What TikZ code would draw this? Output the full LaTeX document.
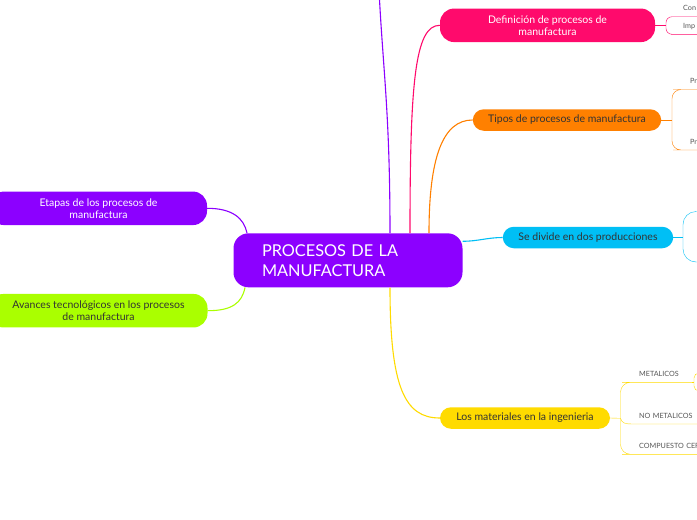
\documentclass[tikz,border=0pt]{standalone}
\usepackage{fontspec}
\setmainfont{Lato}
\usetikzlibrary{positioning}
\definecolor{morado}{HTML}{8C00FF}
\definecolor{rosa}{HTML}{FF0A6C}
\definecolor{naranja}{HTML}{FF8000}
\definecolor{celeste}{HTML}{00BFF5}
\definecolor{amarillo}{HTML}{FFDB00}
\definecolor{lima}{HTML}{AAFF00}
\definecolor{texto}{HTML}{333333}
\definecolor{gris}{HTML}{555555}
\tikzset{
    rama/.style={
           rectangle,
           rounded corners=11pt,
           inner sep=0pt,
           minimum height=21.5pt,
           text=texto,
           font=\fontsize{10.5}{12}\selectfont,
           align=center,
           },
}
\tikzset{
    rama2/.style={
           rama,
           rounded corners=14pt,
           minimum height=33.5pt,
           text=white,
           },
}
\tikzset{
    hoja/.style={
           anchor=south west,
           inner xsep=7pt,
           inner ysep=4.7pt,
           text depth=1pt,
           text width=66pt,
           align=left,
           text=gris,
           font=\fontsize{7.2}{8}\selectfont,
           },
}
\tikzset{
    linea/.style={
           line width=1.1pt,
           },
}

\begin{document}
\begin{tikzpicture}[x=1pt,y=-1pt]
\useasboundingbox[fill=white] (0,0) rectangle (697,520);
\clip (0,0) rectangle (697,520);
\node[fill=morado,rounded corners=15pt,inner sep=0pt,minimum width=229pt,minimum height=54pt,text width=172pt,align=left,text=white,font=\fontsize{16.3}{20}\selectfont](proc) at (348,260.3){PROCESOS DE LA\\MANUFACTURA};
\node[rama2,fill=rosa,minimum width=215pt](def) at (547.5,25.3){Definición de procesos de\\manufactura};
\node[rama,fill=naranja,minimum width=188.5pt](tipos) at (567,120){Tipos de procesos de manufactura};
\node[rama,fill=celeste,minimum width=170.5pt](divide) at (588,237.5){Se divide en dos producciones};
\node[rama,fill=amarillo,minimum width=170pt](mat) at (525,418){Los materiales en la ingenieria};
\node[rama2,fill=morado,minimum width=217pt](etapas) at (98.5,208.3){Etapas de los procesos de\\manufactura};
\node[rama2,fill=lima,text=texto,minimum width=218pt](avances) at (98.5,310.7){Avances tecnológicos en los procesos\\de manufactura};
\coordinate (arriba) at (379,-10);
\draw[linea,morado] ([xshift=42pt]proc.north) .. controls +(0,-120) and +(4,80) .. (arriba);
\draw[linea,rosa] ([xshift=62pt]proc.north) .. controls +(0,-150) and +(-25,0) .. (def.west);
\draw[linea,naranja] ([xshift=81pt]proc.north) .. controls +(0,-75) and +(-30,0) .. (tipos.west);
\draw[linea,celeste] ([yshift=19pt]proc.east) .. controls +(15,0) and +(-15,0) .. (divide.west);
\draw[linea,amarillo] ([xshift=42pt]proc.south) .. controls +(0,100) and +(-35,0) .. (mat.west);
\draw[linea,morado] (etapas.east) .. controls +(25,0) and +(-3,-15) .. ([xshift=-101pt]proc.north);
\draw[linea,lima] (avances.east) .. controls +(25,0) and +(-3,15) .. ([xshift=-103pt]proc.south);
\coordinate (deff) at (666,25.3);
\node[hoja,inner xsep=6pt](con) at (677,16.7){Con};
\node[hoja,inner xsep=6pt](imp) at (677,34.3){Imp};
\draw[rosa] (def.east) -- (deff);
\draw[rosa,rounded corners=6pt] (deff) |- (con.south west) -- (con.south east);
\draw[rosa,rounded corners=6pt] (deff) |- (imp.south west) -- (imp.south east);
\coordinate (tiposf) at (672,120);
\node[hoja,inner xsep=8pt](pr1) at (682,89.5){Pr};
\node[hoja,inner xsep=8pt](pr2) at (682,150){Pr};
\draw[naranja] (tipos.east) -- (tiposf);
\draw[naranja,rounded corners=9pt] (tiposf) |- (pr1.south west) -- (pr1.south east);
\draw[naranja,rounded corners=9pt] (tiposf) |- (pr2.south west) -- (pr2.south east);
\coordinate (dividef) at (683,237.5);
\coordinate (div1) at (710,211.5);
\coordinate (div2) at (710,262);
\draw[celeste] (divide.east) -- (dividef);
\draw[celeste,rounded corners=13pt] (dividef) |- (div1);
\draw[celeste,rounded corners=13pt] (dividef) |- (div2);
\coordinate (matf) at (620.5,418.3);
\node[hoja,text width=46pt](met) at (632,382.3){METALICOS};
\node[hoja](nomet) at (632,424){NO METALICOS};
\node[hoja,text width=80pt](comp) at (632,454.3){COMPUESTO CER};
\draw[amarillo] (mat.east) -- (matf);
\draw[amarillo,rounded corners=10pt] (matf) |- (met.south west) -- (met.south east);
\draw[amarillo] (matf) .. controls +(1,5) and +(-6,0) .. (nomet.south west) -- (nomet.south east);
\draw[amarillo,rounded corners=10pt] (matf) |- (comp.south west) -- (comp.south east);
\coordinate (metf) at (694,382.3);
\coordinate (met1) at (710,373);
\coordinate (met2) at (710,391);
\draw[amarillo] (met.south east) -- (metf);
\draw[amarillo,rounded corners=5pt] (metf) |- (met1);
\draw[amarillo,rounded corners=5pt] (metf) |- (met2);
\end{tikzpicture}
\end{document}
